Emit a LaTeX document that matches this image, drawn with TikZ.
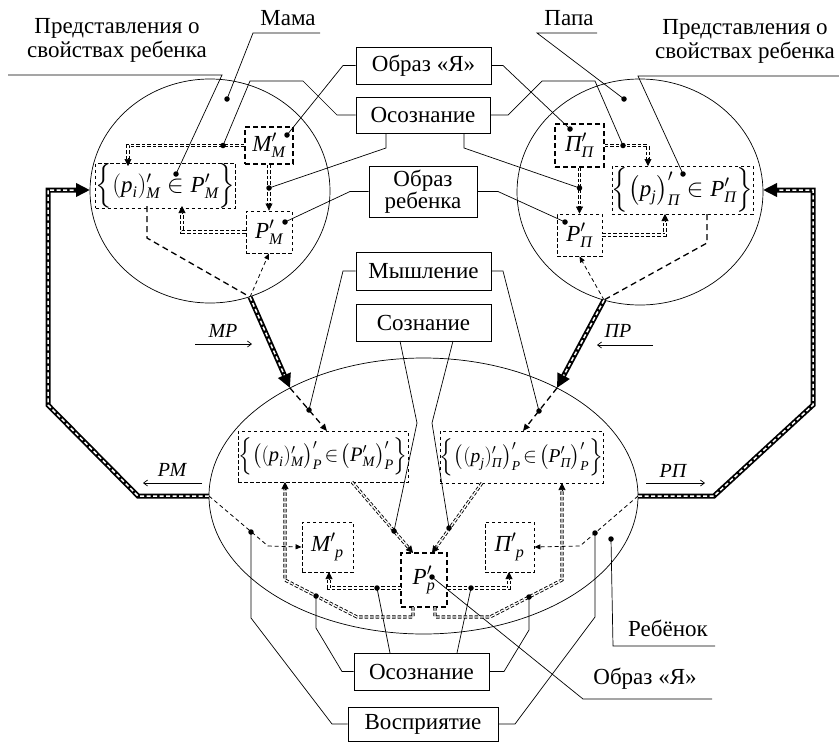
\documentclass[tikz,border=0pt]{standalone}
\usepackage{amsmath}
\usepackage{exscale}
\usepackage{fontspec}
\setmainfont{Liberation Serif}
\usetikzlibrary{arrows.meta,calc}
\newcommand\mi[1]{\textit{#1}}
\tikzset{
 lbl/.style={font=\fontsize{23}{24}\selectfont},
 sbox/.style={draw, line width=0.9pt, inner sep=0pt, lbl},
 dbox/.style={draw, line width=0.8pt, dash pattern=on 3.5pt off 2.5pt, inner sep=0pt, font=\fontsize{23}{24}\selectfont},
 Dbox/.style={draw, line width=1.7pt, dash pattern=on 5pt off 3pt, inner sep=0pt, font=\fontsize{23}{24}\selectfont},
 ldr/.style={line width=0.7pt},
 dd/.style={draw, line width=0.9pt, double distance=1.3pt, dash pattern=on 3.5pt off 2pt},
 tipst/.style={line width=0.6pt, -{Triangle[length=7pt 0,width=7pt 0]}},
 mdash/.style={line width=1.3pt, dash pattern=on 6pt off 4pt},
 tdash/.style={line width=0.8pt, dash pattern=on 4pt off 3pt},
 thk/.style={line width=5pt, line join=miter},
 thkin/.style={line width=1.5pt, white, dash pattern=on 4pt off 2.5pt},
 bigtip/.style={-{Triangle[length=14pt 0,width=13pt 0]}},
 dotc/.style={circle, fill, inner sep=0pt, minimum size=5.5pt},
 ell/.style={line width=0.7pt},
 larr/.style={line width=0.7pt, -{Straight Barb[length=4pt 0,width=6pt 0]}},
 itl/.style={font=\fontsize{20}{22}\selectfont\itshape}
}
\begin{document}
\begin{tikzpicture}[x=1pt,y=-1pt]
\useasboundingbox (0,0) rectangle (839,742);
% ellipses
\draw[ell] (210,191) ellipse [x radius=120pt, y radius=112pt];
\draw[ell] (640,192) ellipse [x radius=123pt, y radius=113pt];
\draw[ell] (423.5,496) ellipse [x radius=214.5pt, y radius=138pt];

% solid boxes
\node[sbox, minimum width=135pt, minimum height=37pt] (obrYa) at (423.5,65.5) {Образ «Я»};
\node[sbox, minimum width=134pt, minimum height=36pt] (osozT) at (423,115) {Осознание};
\node[sbox, minimum width=108pt, minimum height=51pt, align=center, font=\fontsize{23}{22}\selectfont] (obrReb) at (423,191.5) {Образ\\ребенка};
\node[sbox, minimum width=135pt, minimum height=38pt] (mysh) at (423.5,271) {Мышление};
\node[sbox, minimum width=135pt, minimum height=37pt] (sozn) at (423.5,322.5) {Сознание};
\node[sbox, minimum width=135pt, minimum height=37pt] (osozB) at (421.5,671.5) {Осознание};
\node[sbox, minimum width=150pt, minimum height=34pt] (vospr) at (423,724) {Восприятие};

% free labels
\node[lbl, align=center] (predL) at (117,40) {Представления о\\свойствах ребенка};
\node[lbl] (mama) at (288,18) {Мама};
\node[lbl] (papa) at (569,18) {Папа};
\node[lbl, align=center] (predR) at (745,41) {Представления о\\свойствах ребенка};
\node[lbl] (reb) at (668,628) {Ребёнок};
\node[lbl] (obrYaB) at (645,679) {Образ «Я»};
\node[itl] (lRM) at (172,470) {РМ};
\node[itl] (lRP) at (673,471) {РП};
\node[itl] (lMR) at (223,331) {МР};
\node[itl] (lPR) at (618,331) {ПР};
\coordinate (aRMs) at (202,483); \coordinate (aRMe) at (143,483);
\coordinate (aRPs) at (646,483); \coordinate (aRPe) at (705,483);
\coordinate (aMRs) at (195,344); \coordinate (aMRe) at (252,344);
\coordinate (aPRs) at (653,345); \coordinate (aPRe) at (597,345);
\draw[larr] (aRMs) -- (aRMe);
\draw[larr] (aRPs) -- (aRPe);
\draw[larr] (aMRs) -- (aMRe);
\draw[larr] (aPRs) -- (aPRe);

% dashed boxes
\node[Dbox, minimum width=48pt, minimum height=37pt] (MM) at (269,145.5) {$\mi{M}'_{\mi{M}}$};
\node[dbox, minimum width=46pt, minimum height=42pt] (PM) at (269,232) {$\mi{P}'_{\mi{M}}$};
\node[dbox, minimum width=133pt, minimum height=40pt] (setL) at (165.5,186) {$\Bigl\{(\mi{p}_{\mi{i}})'_{\mi{M}}\in\mi{P}'_{\mi{M}}\Bigr\}$};
\node[Dbox, minimum width=49pt, minimum height=43pt] (PiPi) at (579.5,145.5) {$\mi{П}'_{\mi{П}}$};
\node[dbox, minimum width=45pt, minimum height=42pt] (PPi) at (579.5,235) {$\mi{P}'_{\mi{П}}$};
\node[dbox, minimum width=131pt, minimum height=48pt] (setR) at (682.5,190) {$\Bigl\{\bigl(\mi{p}_{\mi{j}}\bigr)'_{\mi{П}}\in\mi{P}'_{\mi{П}}\Bigr\}$};
\node[dbox, minimum width=170pt, minimum height=51pt, font=\fontsize{20.5}{22}\selectfont] (bigL) at (323,456.5) {$\Bigl\{\bigl((\mi{p}_{\mi{i}})'_{\mi{M}}\bigr)'_{\mi{P}}\!\in\!\bigl(\mi{P}'_{\mi{M}}\bigr)'_{\mi{P}}\Bigr\}$};
\node[dbox, minimum width=155pt, minimum height=52pt, font=\fontsize{19.5}{22}\selectfont] (bigR) at (521.5,457) {$\Bigl\{\bigl((\mi{p}_{\mi{j}})'_{\mi{П}}\bigr)'_{\mi{P}}\!\in\!\bigl(\mi{P}'_{\mi{П}}\bigr)'_{\mi{P}}\Bigr\}$};
\node[dbox, minimum width=51pt, minimum height=50pt] (Mp) at (327.5,547) {$\mi{M}'_{\;\mi{p}}$};
\node[Dbox, minimum width=46pt, minimum height=54pt] (Pp) at (424,580) {$\mi{P}'_{\mi{p}}$};
\node[dbox, minimum width=49pt, minimum height=50pt] (Pip) at (509.5,547) {$\mi{П}'_{\;\mi{p}}$};

% dot coordinates
\coordinate (dRepL) at (176,174);
\coordinate (dMama) at (227,99);
\coordinate (dOsTL) at (223,145.5);
\coordinate (dYaL) at (287,135);
\coordinate (dOsBL) at (269,188);
\coordinate (dRebL) at (285,222);
\coordinate (dRepR) at (683,174);
\coordinate (dPapa) at (624,99);
\coordinate (dOsTR) at (623,145.5);
\coordinate (dYaR) at (570,129);
\coordinate (dOsBR) at (579.5,188);
\coordinate (dRebR) at (565,222);
\coordinate (dMyL) at (309,410);
\coordinate (dMyR) at (539,411);
\coordinate (dSozL) at (394,531);
\coordinate (dSozR) at (449,528);
\coordinate (dOsL) at (316,596);
\coordinate (dOsR) at (529,597);
\coordinate (dPL) at (377,588);
\coordinate (dPR) at (471,588);
\coordinate (dVosL) at (251,532);
\coordinate (dVosR) at (595,533);
\coordinate (dPp) at (432,577);
\coordinate (dReb) at (611,539);

% key coordinates
\coordinate (jL) at (250,297);
\coordinate (tL) at (290,388);
\coordinate (jR) at (604,300);
\coordinate (tR) at (557,388);
\coordinate (sideL) at (209,496);
\coordinate (sideR) at (638,496);

% leader lines top
\draw[ldr] (8,75) -- (222,75) -- (dRepL);
\draw[ldr] (320,33) -- (253,33) -- (dMama);
\draw[ldr] (597,33) -- (537,33) -- (dPapa);
\draw[ldr] (839,76) -- (638,76) -- (dRepR);
\draw[ldr] (obrYa.west) -- (343,65.5) -- (dYaL);
\draw[ldr] (obrYa.east) -- (503,65.5) -- (dYaR);
\draw[ldr] (osozT.west) -- (337,115) -- (303,81) -- (250,81) -- (dOsTL);
\draw[ldr] (osozT.east) -- (508,115) -- (542,81) -- (595,81) -- (dOsTR);
\draw[ldr] (386,133) -- (386,148) -- (dOsBL);
\draw[ldr] (464,133) -- (464,148) -- (dOsBR);
\draw[ldr] (obrReb.west) -- (350,191.5) -- (dRebL);
\draw[ldr] (obrReb.east) -- (498,191.5) -- (dRebR);

% leader lines bottom
\draw[ldr] (mysh.west) -- (343,271) -- (dMyL);
\draw[ldr] (mysh.east) -- (503,271) -- (dMyR);
\draw[ldr] (400,341) -- (417,423) -- (dSozL);
\draw[ldr] (453,341) -- (432,423) -- (dSozR);
\draw[ldr] (osozB.west) -- (342,671.5) -- (316,628) -- (dOsL);
\draw[ldr] (osozB.east) -- (504,671.5) -- (529,630) -- (dOsR);
\draw[ldr] (390,653) -- (dPL);
\draw[ldr] (457,653) -- (dPR);
\draw[ldr] (vospr.west) -- (332,724) -- (251,618) -- (dVosL);
\draw[ldr] (vospr.east) -- (515,724) -- (595,617) -- (dVosR);
\draw[ldr] (dPp) -- (583,699) -- (712,699);
\draw[ldr] (dReb) -- (613,646) -- (715,646);

% left top ellipse flows
\draw[dd] (MM.west) -- (128,145.5) -- (128,160);
\draw[tipst] (128,158) -- (128,166);
\draw[dd] (MM.south) -- (269,205);
\draw[tipst] (269,203) -- (PM.north);
\draw[dd] (PM.west) -- (182,232) -- (182,212);
\draw[tipst] (182,214) -- (182,206);
\draw[mdash] (147,206) -- (147,238) -- (jL);
\draw[tdash, -{Triangle[length=6pt 0,width=5pt 0]}] (jL) -- (PM.south);

% right top ellipse flows
\draw[dd] (PiPi.east) -- (648,145.5) -- (648,160);
\draw[tipst] (648,158) -- (648,166);
\draw[dd] (PiPi.south) -- (579.5,208);
\draw[tipst] (579.5,206) -- (PPi.north);
\draw[dd] (PPi.east) -- (665,235) -- (665,220);
\draw[tipst] (665,222) -- (665,214);
\draw[mdash] (707,214) -- (707,243) -- (jR);
\draw[tdash, -{Triangle[length=6pt 0,width=5pt 0]}] (jR) -- (PPi.south);

% thick arrows
\draw[thk, bigtip] (jL) -- (tL);
\draw[thkin, shorten >=14pt] (jL) -- (tL);
\draw[thk, bigtip] (jR) -- (tR);
\draw[thkin, shorten >=14pt] (jR) -- (tR);
\draw[thk, bigtip] (sideL) -- (138,496) -- (48,405) -- (48,190) -- (90,190);
\draw[thkin] (sideL) -- (138,496) -- (48,405) -- (48,190) -- (76,190);
\draw[thk, bigtip] (sideR) -- (714,496) -- (813,405) -- (813,190) -- (763,190);
\draw[thkin] (sideR) -- (714,496) -- (813,405) -- (813,190) -- (777,190);

% bottom ellipse flows
\draw[mdash, -{Triangle[length=7pt 0,width=6pt 0]}] (tL) -- (327,431);
\draw[mdash, -{Triangle[length=7pt 0,width=6pt 0]}] (tR) -- (523,431);
\draw[dd, shorten >=5pt] (352,482) -- (413,553);
\draw[tipst] ($(413,553)!8pt!(352,482)$) -- (413,553);
\draw[dd, shorten >=5pt] (482,483) -- (432,553);
\draw[tipst] ($(432,553)!8pt!(482,483)$) -- (432,553);
\draw[dd] (413,607) -- (413,617) -- (357,617) -- (285,580) -- (285,488);
\draw[tipst] (285,490) -- (285,482);
\draw[dd] (435,607) -- (435,617) -- (490,617) -- (562,580) -- (562,489);
\draw[tipst] (562,491) -- (562,483);
\draw[dd] (401,588) -- (329,588) -- (329,578);
\draw[tipst] (329,580) -- (329,572);
\draw[dd] (447,588) -- (509,588) -- (509,578);
\draw[tipst] (509,580) -- (509,572);
\draw[tdash, -{Triangle[length=6pt 0,width=5pt 0]}] (sideL) -- (268,546) -- (Mp.west);
\draw[tdash, -{Triangle[length=6pt 0,width=5pt 0]}] (sideR) -- (580,546) -- (Pip.east);

% dots on top
\foreach \d in {dRepL,dMama,dOsTL,dYaL,dOsBL,dRebL,dRepR,dPapa,dOsTR,dYaR,dOsBR,dRebR,dMyL,dMyR,dSozL,dSozR,dOsL,dOsR,dPL,dPR,dVosL,dVosR,dPp,dReb}
  \node[dotc] (n\d) at (\d) {};
\end{tikzpicture}
\end{document}
